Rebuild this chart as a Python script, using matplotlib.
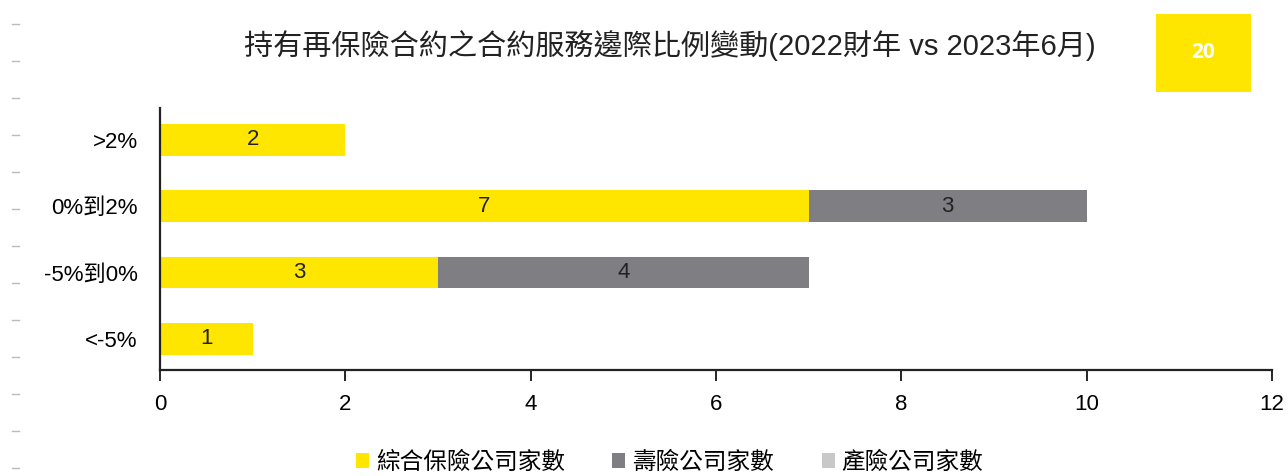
import matplotlib.pyplot as plt
from matplotlib.patches import Patch, Rectangle
from matplotlib.lines import Line2D

plt.rcParams['font.family'] = ['Liberation Sans', 'Noto Sans CJK TC', 'DejaVu Sans']

categories = ['<-5%', '-5%到0%', '0%到2%', '>2%']
general = [1, 3, 7, 2]
life = [0, 4, 3, 0]
nonlife = [0, 0, 0, 0]
series_names = ['綜合保險公司家數', '壽險公司家數', '產險公司家數']
colors = ['#FFE600', '#7F7E82', '#C8C8C8']
title = '持有再保險合約之合約服務邊際比例變動(2022財年 vs 2023年6月)'
page_no = '20'

fig = plt.figure(figsize=(12.88, 4.76), dpi=100)
ax = fig.add_axes([0.1242, 0.2227, 0.8634, 0.5504])

ypos = list(range(len(categories)))
bar_h = 0.48
left = [0] * len(categories)
for vals, col in zip([general, life, nonlife], colors):
    bars = ax.barh(ypos, vals, left=left, height=bar_h, color=col)
    for b, v in zip(bars, vals):
        if v:
            ax.text(b.get_x() + b.get_width() / 2, b.get_y() + b.get_height() / 2,
                    str(v), ha='center', va='center', fontsize=16, color='#222222')
    left = [l + v for l, v in zip(left, vals)]

ax.set_xlim(0, 12)
ax.set_ylim(-0.47, 3.48)
ax.set_xticks(range(0, 13, 2))
ax.set_yticks(ypos)
ax.set_yticklabels(categories)
ax.tick_params(axis='x', direction='out', length=8, width=1.2, labelsize=16, pad=9)
ax.tick_params(axis='y', length=0, labelsize=16, pad=16)
for s in ['top', 'right']:
    ax.spines[s].set_visible(False)
for s in ['left', 'bottom']:
    ax.spines[s].set_linewidth(1.6)
    ax.spines[s].set_color('#222222')

fig.text(0.52, 0.905, title, ha='center', va='center', fontsize=21, color='#222222')

# page number tag
fig.patches.append(Rectangle((0.8975, 0.807), 0.0738, 0.164, transform=fig.transFigure,
                             facecolor='#FFE600', edgecolor='none'))
fig.text(0.9344, 0.889, page_no, ha='center', va='center', fontsize=15,
         fontweight='bold', color='white', family='Open Sans')

# faint slide margin dashes
for i in range(13):
    y = 1 - (24 + i * 37) / 476
    fig.add_artist(Line2D([0.009, 0.015], [y, y], transform=fig.transFigure,
                          color='#BBBBBB', lw=1))

handles = [Patch(facecolor=c, edgecolor='none') for c in colors]
fig.legend(handles, series_names, loc='center', bbox_to_anchor=(0.52, 0.028),
           ncol=3, frameon=False, fontsize=17, handlelength=0.55, handleheight=0.55,
           handletextpad=0.3, columnspacing=2.0)

fig.savefig('out.png', dpi=100)
